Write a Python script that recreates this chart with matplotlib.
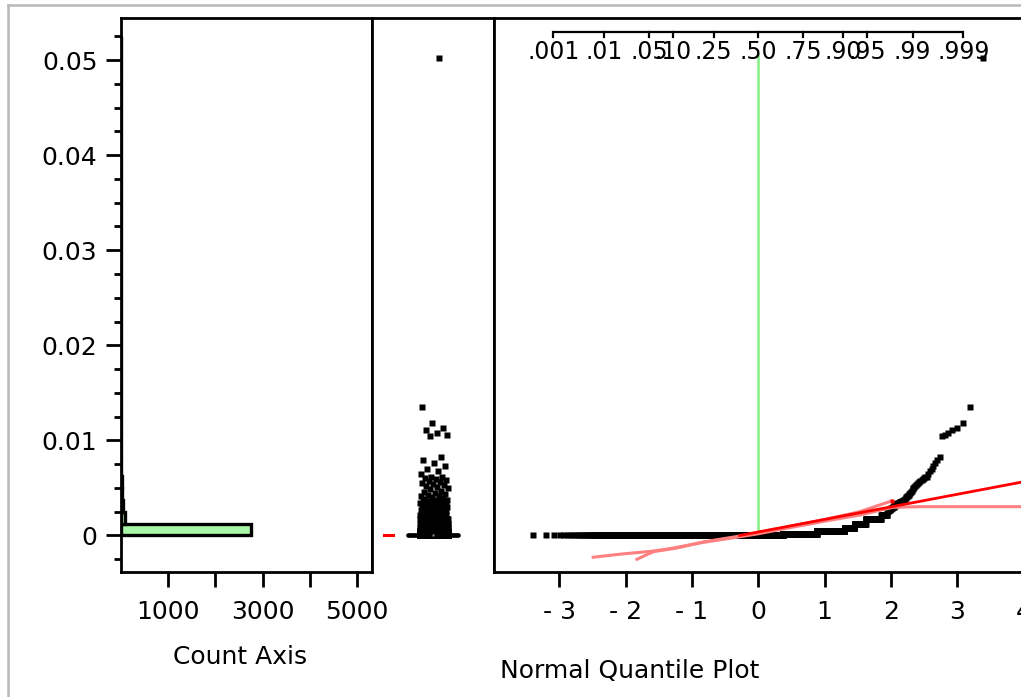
import numpy as np
import matplotlib
matplotlib.use("Agg")
import matplotlib.pyplot as plt
from matplotlib.lines import Line2D
from matplotlib.transforms import blended_transform_factory
from statistics import NormalDist

# ---------------- data ----------------
# sorted values, run-length encoded for the bulk near zero
level_values = [0.0, 0.0002, 0.00045, 0.0008, 0.0012, 0.0017, 0.0022]
level_counts = [1869, 483, 268, 68, 60, 60, 17]
# individual upper-tail values (ascending)
tail_values = [
    0.0026, 0.0026, 0.0026, 0.0026, 0.0027,
    0.0027, 0.0027, 0.0028, 0.0028, 0.0028,
    0.0029, 0.0029, 0.0029, 0.0030, 0.0030,
    0.0030, 0.0031, 0.0031, 0.0032, 0.0032,
    0.0032, 0.0033, 0.0033, 0.0033, 0.0034,
    0.0034, 0.0034, 0.0035, 0.0035, 0.0035,
    0.0035, 0.0036, 0.0036, 0.0036, 0.0037,
    0.0037, 0.0038, 0.0039, 0.0040, 0.0041,
    0.0042, 0.0043, 0.0044, 0.0045, 0.0046,
    0.0047, 0.0049, 0.0050, 0.0051, 0.0052,
    0.0053, 0.0054, 0.0055, 0.0056, 0.0057,
    0.0058, 0.0059, 0.0060, 0.0061, 0.0062,
    0.0065, 0.0068, 0.0070, 0.0073, 0.0076,
    0.0079, 0.0083, 0.0105, 0.0106, 0.0108,
    0.0111, 0.0113, 0.0118, 0.0135, 0.0502,
]
bin_width = 0.00125

# normal fit line (mean, sd)
fit_mean = 0.00037
fit_sd = 0.00132

# confidence-band curves (normal quantile, value)
band_a_q = [-2.49, -2.09, -1.60, -1.33, -0.83, -0.33, 0.0, 0.5, 1.0, 1.53, 2.03, 2.44, 4.4]
band_a_y = [-0.00229, -0.00197, -0.00165, -0.00138, -0.00072, -0.00019, 0.00018,
            0.00085, 0.00150, 0.00215, 0.00296, 0.00303, 0.00303]
band_b_q = [-1.83, -1.58, -1.23, -0.83, -0.33, 0.0, 0.5, 1.0, 1.53, 2.01]
band_b_y = [-0.00250, -0.00170, -0.00132, -0.00068, -0.00012, 0.00028, 0.00098,
            0.00168, 0.00250, 0.00363]

prob_ticks = [0.001, 0.01, 0.05, 0.10, 0.25, 0.50, 0.75, 0.90, 0.95, 0.99, 0.999]
prob_labels = [".001", ".01", ".05", ".10", ".25", ".50", ".75", ".90", ".95", ".99", ".999"]

y_ticks = [0.0, 0.01, 0.02, 0.03, 0.04, 0.05]
y_tick_labels = ["0", "0.01", "0.02", "0.03", "0.04", "0.05"]
count_ticks = [1000, 2000, 3000, 4000, 5000]
count_tick_labels = ["1000", "", "3000", "", "5000"]
q_ticks = [-3, -2, -1, 0, 1, 2, 3, 4]
q_tick_labels = ["- 3", "- 2", "- 1", "0", "1", "2", "3", "4"]

# ---------------- derived ----------------
values = np.concatenate([np.repeat(level_values, level_counts), np.array(tail_values)])
values = np.sort(values)
N = len(values)
nd = NormalDist()
quantiles = np.array([nd.inv_cdf(i / (N + 1)) for i in range(1, N + 1)])
bin_edges = np.arange(0, 0.0525 + bin_width / 2, bin_width)

# ---------------- figure ----------------
W, H = 1021, 697
plt.rcParams['font.family'] = ['DejaVu Sans']
fig = plt.figure(figsize=(W / 100, H / 100), dpi=100)
fig.patch.set_facecolor('white')

ylim = (-0.00384, 0.05442)
bottom = (H - 572) / H
height = (572 - 18) / H
ax_h = fig.add_axes([121 / W, bottom, 251 / W, height])
ax_m = fig.add_axes([372 / W, bottom, 122 / W, height])
ax_q = fig.add_axes([494 / W, bottom, 550 / W, height])

SPW = 2.0
for ax in (ax_h, ax_m, ax_q):
    ax.set_ylim(*ylim)
    for s in ax.spines.values():
        s.set_linewidth(SPW)

MS = 4.8

# ---- histogram ----
ax_h.hist(values, bins=bin_edges, orientation='horizontal', color='#a8f7a8',
          edgecolor='black', linewidth=2.4)
ax_h.set_xlim(0, 5320)
ax_h.set_xticks(count_ticks)
ax_h.set_xticklabels(count_tick_labels)
ax_h.set_yticks(y_ticks)
ax_h.set_yticklabels(y_tick_labels)
ax_h.set_yticks(np.arange(-0.0025, 0.054, 0.0025), minor=True)
ax_h.tick_params(axis='x', length=11, width=2, labelsize=18, pad=9)
ax_h.tick_params(axis='y', which='major', length=11, width=2, labelsize=18, pad=6)
ax_h.tick_params(axis='y', which='minor', length=5, width=2)

# ---- middle (outlier box) panel ----
ax_m.set_xlim(0, 1)
ax_m.set_xticks([])
ax_m.set_yticks([])
ax_m.spines['bottom'].set_visible(False)
k = np.arange(N)
jitter = 0.508 + 0.115 * (2 * ((k * 0.6180339887) % 1.0) - 1)
ax_m.plot([0.295, 0.705], [0, 0], color='black', lw=3.4, solid_capstyle='round', zorder=2)
ax_m.plot(jitter, values, 's', color='black', ms=MS, mec='none', zorder=3)
ax_m.plot([0.5], [0], 's', color='#909090', ms=1.5, mec='none', zorder=4)
ax_m.plot([0.098, 0.172], [0, 0], color='red', lw=2.2, zorder=3)

# ---- normal quantile plot ----
ax_q.set_xlim(-3.986, 4.309)
ax_q.set_yticks([])
ax_q.spines['right'].set_visible(False)
ax_q.set_xticks(q_ticks)
ax_q.set_xticklabels(q_tick_labels)
ax_q.tick_params(axis='x', length=11, width=2, labelsize=18, pad=9)

ax_q.plot([0, 0], [0, 0.0505], color='#84ee84', lw=1.8, zorder=1)
ax_q.plot(quantiles, values, 's', color='black', ms=MS, mec='none', zorder=2)
ax_q.plot(band_a_q, band_a_y, color='#ff8080', lw=2.2, zorder=3)
ax_q.plot(band_b_q, band_b_y, color='#ff8080', lw=2.2, zorder=3)
ax_q.plot(band_b_q[-1:], band_b_y[-1:], 's', color='red', ms=2.5, mec='none', zorder=4)
q_start = (values.min() - fit_mean) / fit_sd
q_end = 4.309
ax_q.plot([q_start, q_end], [fit_mean + fit_sd * q_start, fit_mean + fit_sd * q_end],
          color='red', lw=2.0, zorder=4)

# top probability axis
tr = blended_transform_factory(ax_q.transData, ax_q.transAxes)
pq = [nd.inv_cdf(p) for p in prob_ticks]
y_line = (572 - 32) / 554
y_tick_end = (572 - 37) / 554
y_lab = (572 - 52) / 554
ax_q.plot([pq[0], pq[-1]], [y_line, y_line], color='black', lw=1.6, transform=tr,
          clip_on=False, solid_capstyle='butt')
for x, lab in zip(pq, prob_labels):
    ax_q.plot([x, x], [y_line, y_tick_end], color='black', lw=1.6, transform=tr,
              clip_on=False)
    ax_q.text(x, y_lab, lab, transform=tr, ha='center', va='center', fontsize=17)

# ---- axis titles ----
fig.text(240 / W, 1 - 657 / H, "Count Axis", ha='center', va='center', fontsize=18)
fig.text(630 / W, 1 - 671 / H, "Normal Quantile Plot", ha='center', va='center', fontsize=18)

# ---- outer frame ----
fig.add_artist(Line2D([8 / W, 8 / W], [0, 1 - 5 / H], transform=fig.transFigure,
                      color='#b8b8b8', lw=1.8))
fig.add_artist(Line2D([8 / W, 1], [1 - 5 / H, 1 - 5 / H], transform=fig.transFigure,
                      color='#b8b8b8', lw=1.8))

fig.savefig("out.png", dpi=100)
